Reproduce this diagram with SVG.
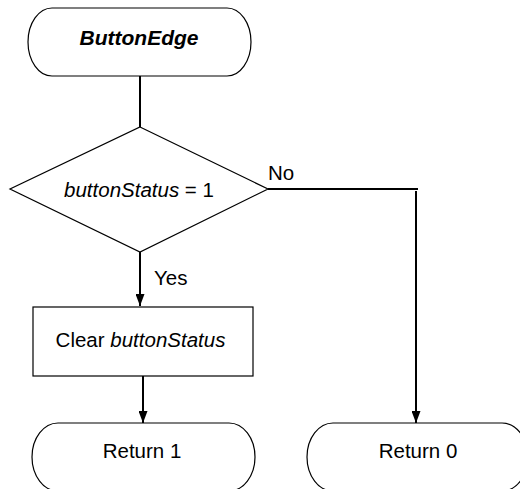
<svg xmlns="http://www.w3.org/2000/svg" width="520" height="489" viewBox="0 0 520 489">
<style>
.shape{fill:#fff;stroke:#000;stroke-width:1.2}
.conn{fill:none;stroke:#000;stroke-width:2}
text{font-family:"Liberation Sans",Arial,sans-serif;font-size:20.5px;fill:#000}
.c{text-anchor:middle}
</style>
<defs>
<marker id="ah" markerWidth="13" markerHeight="9" refX="12" refY="4.5" orient="auto" markerUnits="userSpaceOnUse">
<path d="M0,0 L12,4.5 L0,9 Z" fill="#000"/>
</marker>
</defs>
<g id="connectors">
<path class="conn" d="M140,76 V127"/>
<path class="conn" d="M140,252 V306" marker-end="url(#ah)"/>
<path class="conn" d="M268,189 H418"/>
<path class="conn" d="M416,191 V423" marker-end="url(#ah)"/>
<path class="conn" d="M143,376 V423" marker-end="url(#ah)"/>
</g>
<g id="start">
<rect class="shape" x="28" y="8" width="223" height="68" rx="24" ry="34"/>
<text class="c" x="139" y="45" style="font-weight:bold;font-style:italic;font-size:21px">ButtonEdge</text>
</g>
<g id="decision">
<polygon class="shape" points="140,127 268,189 140,252 10,189"/>
<text class="c" x="139" y="197"><tspan font-style="italic">buttonStatus</tspan> = 1</text>
<text x="268" y="180">No</text>
<text x="154" y="285">Yes</text>
</g>
<g id="clear">
<rect class="shape" x="33" y="307" width="220" height="69"/>
<text class="c" x="140.5" y="347">Clear <tspan font-style="italic">buttonStatus</tspan></text>
</g>
<g id="return1">
<rect class="shape" x="32" y="423" width="223" height="68" rx="26" ry="34"/>
<text class="c" x="142" y="458">Return 1</text>
</g>
<g id="return0">
<rect class="shape" x="307" y="423" width="221" height="68" rx="26" ry="34"/>
<text class="c" x="418" y="458">Return 0</text>
</g>
</svg>
